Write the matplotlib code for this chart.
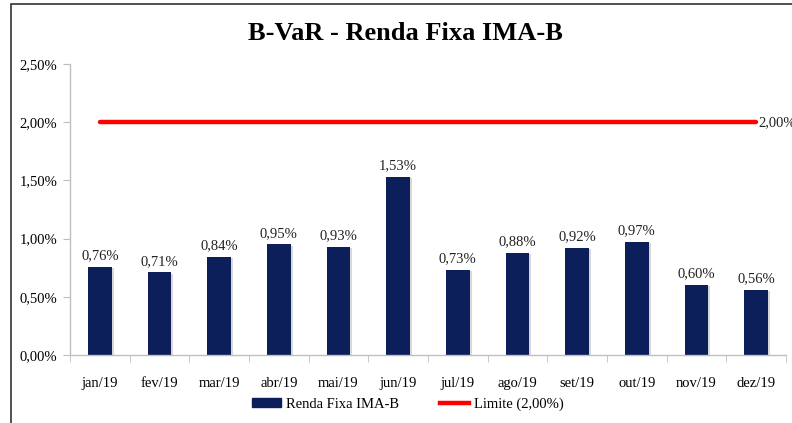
import matplotlib.pyplot as plt
import numpy as np
from matplotlib.patches import Rectangle
from matplotlib.lines import Line2D

# Chart data
meses = ['jan/19', 'fev/19', 'mar/19', 'abr/19', 'mai/19', 'jun/19',
         'jul/19', 'ago/19', 'set/19', 'out/19', 'nov/19', 'dez/19']
bvar = [0.76, 0.71, 0.84, 0.95, 0.93, 1.53, 0.73, 0.88, 0.92, 0.97, 0.60, 0.56]
limite = [2.00] * 12
y_ticks = [0.0, 0.5, 1.0, 1.5, 2.0, 2.5]

plt.rcParams['font.family'] = ['Liberation Serif', 'DejaVu Serif']

navy = '#0c1f5a'
red = '#ff0000'
gray = '#bfbfbf'

fig = plt.figure(figsize=(7.92, 4.23), dpi=100)
ax = fig.add_axes([70 / 792, 68 / 423, 716 / 792, 291 / 423])

x = np.arange(len(meses))
# light shadow behind the bars
ax.bar(x + 0.03, np.array(bvar) - 0.01, width=0.4, color='#d8d8d8', zorder=1)
ax.bar(x, bvar, width=0.4, color=navy, zorder=2)
ax.plot(x, limite, color=red, lw=3.2, solid_capstyle='round', zorder=3)

for xi, v in zip(x, bvar):
    ax.text(xi, v + 0.04, f'{v:.2f}%'.replace('.', ','), ha='center', va='bottom',
            fontsize=10.5, color='#222222')
ax.text(x[-1] + 0.03, limite[-1], f'{limite[-1]:.2f}%'.replace('.', ','),
        ha='left', va='center', fontsize=10.5, color='#222222', clip_on=False)

ax.set_xlim(-0.5, len(meses) - 0.5)
ax.set_ylim(0, 2.5)
ax.set_yticks(y_ticks)
ax.set_yticklabels([f'{t:.2f}%'.replace('.', ',') for t in y_ticks], fontsize=10.5)
ax.set_xticks(x)
ax.set_xticklabels(meses, fontsize=10.5)
ax.set_xticks(np.arange(len(meses) + 1) - 0.5, minor=True)
ax.tick_params(axis='x', which='major', length=0, pad=16)
ax.tick_params(axis='x', which='minor', length=5, color=gray, direction='out')
ax.tick_params(axis='y', length=5, color=gray, direction='out', pad=4)

for s in ['top', 'right']:
    ax.spines[s].set_visible(False)
for s in ['left', 'bottom']:
    ax.spines[s].set_color(gray)
    ax.spines[s].set_linewidth(1)

fig.text(405 / 792, 1 - 33 / 423, 'B-VaR - Renda Fixa IMA-B', ha='center', va='center',
         fontsize=19, fontweight='bold')

handles = [Rectangle((0, 0), 1, 1, color=navy),
           Line2D([0], [0], color=red, lw=3.2)]
fig.legend(handles, ['Renda Fixa IMA-B', 'Limite (2,00%)'], loc='center',
           bbox_to_anchor=(408 / 792, 1 - 404 / 423), ncol=2, frameon=False,
           fontsize=10.5, handlelength=2.0, handleheight=0.55, columnspacing=2.8,
           handletextpad=0.35)

# chart frame
fig.patches.append(Rectangle((11 / 792, -0.05), 1.0, 1 - 4 / 423 + 0.05,
                             transform=fig.transFigure, fill=False,
                             edgecolor='#333333', lw=1.2))

fig.savefig('out.png', dpi=100)
